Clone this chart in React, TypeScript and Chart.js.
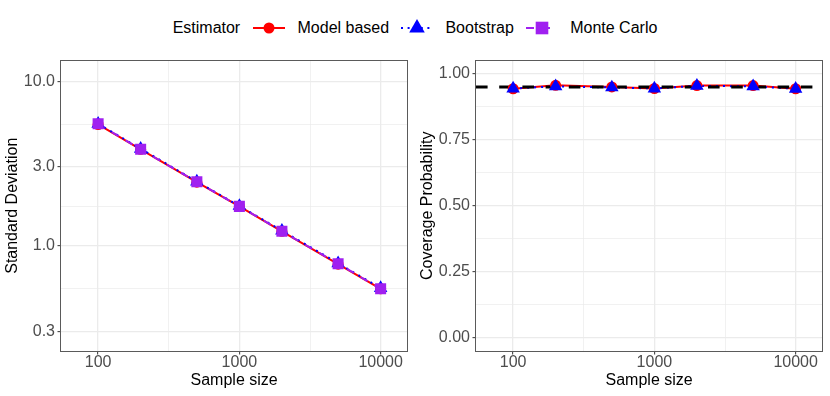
import React, { useEffect, useRef } from "react";
import { Chart, registerables } from "chart.js";

Chart.register(...registerables);

// ---------- data ----------
const sampleSizes = [100, 200, 500, 1000, 2000, 5000, 10000];

const sdModelBased = [5.45, 3.85, 2.43, 1.73, 1.22, 0.77, 0.545];
const sdBootstrap = [5.5, 3.88, 2.45, 1.74, 1.23, 0.78, 0.55];
const sdMonteCarlo = [5.5, 3.85, 2.44, 1.73, 1.22, 0.775, 0.545];

const covModelBased = [0.943, 0.956, 0.95, 0.944, 0.955, 0.955, 0.943];
const covBootstrap = [0.944, 0.952, 0.948, 0.944, 0.954, 0.952, 0.943];
const nominalCoverage = 0.95;

const xMajorTicks = [100, 1000, 10000];
const xTickLabels = ["100", "1000", "10000"];
const xMinorTicks = [316.23, 3162.3];
const xLimits = [54.6, 15420];

const sdMajorTicks = [0.3, 1, 3, 10];
const sdTickLabels = ["0.3", "1.0", "3.0", "10.0"];
const sdMinorTicks = [0.548, 1.732, 5.477];
const sdLimits = [0.228, 13.36];

const covMajorTicks = [0, 0.25, 0.5, 0.75, 1];
const covTickLabels = ["0.00", "0.25", "0.50", "0.75", "1.00"];
const covMinorTicks = [0.125, 0.375, 0.625, 0.875];
const covLimits = [-0.05, 1.05];

const seriesNames = ["Model based", "Bootstrap", "Monte Carlo"];
const legendTitle = "Estimator";

// ---------- styles ----------
const FONT = "'Liberation Sans', Arial, Helvetica, sans-serif";
const RED = "#FF0000";
const BLUE = "#0000FF";
const PURPLE = "#A020F0";
const GRID = "#EBEBEB";
const DARK = "#333333";
const BORDER = "#5A5A5A";
const TICK_TEXT = "#4D4D4D";

const toPoints = (ys: number[]) => sampleSizes.map((n, i) => ({ x: n, y: ys[i] }));

function axisConfig(
  type: "logarithmic" | "linear",
  limits: number[],
  major: number[],
  minor: number[],
  labels: string[],
  title: string,
  horizontal: boolean
) {
  const isMajor = (v: number) => major.some((m) => Math.abs(m - v) < 1e-9);
  return {
    type,
    position: horizontal ? "bottom" : "left",
    min: limits[0],
    max: limits[1],
    afterBuildTicks: (scale: any) => {
      scale.ticks = [...major, ...minor]
        .sort((a, b) => a - b)
        .map((v) => ({ value: v }));
    },
    afterFit: (scale: any) => {
      if (horizontal) scale.height = 45;
      else scale.width = 61;
    },
    border: { display: false },
    grid: {
      color: GRID,
      lineWidth: (ctx: any) => (ctx.tick && isMajor(ctx.tick.value) ? 1.3 : 0.7),
      tickColor: (ctx: any) => (ctx.tick && isMajor(ctx.tick.value) ? DARK : "rgba(0,0,0,0)"),
      tickWidth: 1,
      tickLength: 3.5,
      drawTicks: true,
    },
    ticks: {
      autoSkip: false,
      maxRotation: 0,
      minRotation: 0,
      padding: horizontal ? 0.5 : 2.5,
      color: TICK_TEXT,
      font: { family: FONT, size: 16, lineHeight: 1 },
      callback: (value: any) => {
        const i = major.findIndex((m) => Math.abs(m - Number(value)) < 1e-9);
        return i >= 0 ? labels[i] : "";
      },
    },
    title: {
      display: true,
      text: title,
      color: "#000000",
      font: { family: FONT, size: 16, lineHeight: 1.2 },
      padding: horizontal ? { top: 0, bottom: 5.4 } : { top: 3.2, bottom: 0 },
    },
  };
}

const panelBorder = {
  id: "panelBorder",
  afterDatasetsDraw(chart: any) {
    const { ctx, chartArea } = chart;
    const l = Math.round(chartArea.left) - 0.5;
    const t = Math.round(chartArea.top) - 0.5;
    const r = Math.round(chartArea.right) + 0.5;
    const b = Math.round(chartArea.bottom) + 0.5;
    ctx.save();
    ctx.strokeStyle = BORDER;
    ctx.lineWidth = 1;
    ctx.strokeRect(l, t, r - l, b - t);
    ctx.restore();
  },
};

const lineSet = (label: string, ys: number[], color: string, dash: number[], order: number) => ({
  label,
  data: toPoints(ys),
  borderColor: color,
  backgroundColor: color,
  borderWidth: 2,
  borderDash: dash,
  pointRadius: 0,
  pointHoverRadius: 0,
  tension: 0,
  fill: false,
  order,
});

const pointSet = (label: string, ys: number[], color: string, style: string, radius: number, order: number) => ({
  label,
  data: toPoints(ys),
  showLine: false,
  pointStyle: style,
  pointRadius: radius,
  pointHoverRadius: radius,
  pointBackgroundColor: color,
  pointBorderColor: color,
  pointBorderWidth: 0,
  borderWidth: 0,
  order,
});

function baseOptions(xAxis: any, yAxis: any) {
  return {
    responsive: false,
    animation: false as const,
    events: [] as any[],
    layout: { padding: { left: 0, right: 6, top: 10, bottom: 0 } },
    plugins: { legend: { display: false }, tooltip: { enabled: false } },
    scales: { x: xAxis, y: yAxis },
  };
}

function SdPanel() {
  const ref = useRef<HTMLCanvasElement | null>(null);
  useEffect(() => {
    if (!ref.current) return;
    const chart = new Chart(ref.current, {
      type: "line",
      data: {
        datasets: [
          lineSet(seriesNames[0], sdModelBased, RED, [], 6),
          lineSet(seriesNames[1], sdBootstrap, BLUE, [2, 5], 5),
          lineSet(seriesNames[2], sdMonteCarlo, PURPLE, [8, 8], 4),
          pointSet(seriesNames[0], sdModelBased, RED, "circle", 5.5, 3),
          pointSet(seriesNames[1], sdBootstrap, BLUE, "triangle", 7.8, 2),
          pointSet(seriesNames[2], sdMonteCarlo, PURPLE, "rect", 7.8, 1),
        ] as any,
      },
      options: baseOptions(
        axisConfig("logarithmic", xLimits, xMajorTicks, xMinorTicks, xTickLabels, "Sample size", true),
        axisConfig("logarithmic", sdLimits, sdMajorTicks, sdMinorTicks, sdTickLabels, "Standard Deviation", false)
      ) as any,
      plugins: [panelBorder],
    });
    return () => chart.destroy();
  }, []);
  return (
    <canvas
      ref={ref}
      width={415}
      height={346}
      style={{ position: "absolute", left: 0, top: 50, width: 415, height: 346 }}
    />
  );
}

function CoveragePanel() {
  const ref = useRef<HTMLCanvasElement | null>(null);
  useEffect(() => {
    if (!ref.current) return;
    const chart = new Chart(ref.current, {
      type: "line",
      data: {
        datasets: [
          lineSet(seriesNames[0], covModelBased, RED, [], 6),
          lineSet(seriesNames[1], covBootstrap, BLUE, [2, 5], 5),
          {
            label: "Nominal",
            data: [
              { x: xLimits[0], y: nominalCoverage },
              { x: xLimits[1], y: nominalCoverage },
            ],
            borderColor: "#000000",
            borderWidth: 3,
            borderDash: [11.6, 11.6],
            pointRadius: 0,
            pointHoverRadius: 0,
            fill: false,
            order: 4,
          },
          pointSet(seriesNames[0], covModelBased, RED, "circle", 5.5, 3),
          pointSet(seriesNames[1], covBootstrap, BLUE, "triangle", 7.8, 2),
        ] as any,
      },
      options: baseOptions(
        axisConfig("logarithmic", xLimits, xMajorTicks, xMinorTicks, xTickLabels, "Sample size", true),
        axisConfig("linear", covLimits, covMajorTicks, covMinorTicks, covTickLabels, "Coverage Probability", false)
      ) as any,
      plugins: [panelBorder],
    });
    return () => chart.destroy();
  }, []);
  return (
    <canvas
      ref={ref}
      width={415}
      height={346}
      style={{ position: "absolute", left: 415, top: 50, width: 415, height: 346 }}
    />
  );
}

function LegendKey({ kind }: { kind: number }) {
  const color = [RED, BLUE, PURPLE][kind];
  const dash = ["", "2 4.6", "8 8"][kind];
  return (
    <svg width={32} height={20} style={{ display: "block", marginRight: 12.3 }}>
      <line x1={0} y1={10} x2={32} y2={10} stroke={color} strokeWidth={2} strokeDasharray={dash || undefined} />
      {kind === 0 && <circle cx={16} cy={10} r={5.5} fill={color} />}
      {kind === 1 && (
        <polygon
          points={`16,${10 - 9} ${16 + 9 * 0.866},${10 + 4.5} ${16 - 9 * 0.866},${10 + 4.5}`}
          fill={color}
        />
      )}
      {kind === 2 && <rect x={16 - 6.3} y={10 - 6.3} width={12.6} height={12.6} fill={color} />}
    </svg>
  );
}

function Legend() {
  const textStyle: React.CSSProperties = { fontFamily: FONT, fontSize: 16, color: "#000", whiteSpace: "nowrap" };
  return (
    <div
      style={{
        position: "absolute",
        left: 0,
        top: 18,
        width: 830,
        height: 20,
        display: "flex",
        alignItems: "center",
        justifyContent: "center",
      }}
    >
      <span style={{ ...textStyle, marginRight: 13 }}>{legendTitle}</span>
      {seriesNames.map((name, i) => (
        <React.Fragment key={name}>
          <LegendKey kind={i} />
          <span style={{ ...textStyle, marginRight: i < seriesNames.length - 1 ? 12 : 0 }}>{name}</span>
        </React.Fragment>
      ))}
    </div>
  );
}

export default function App() {
  return (
    <div
      style={{
        position: "fixed",
        left: 0,
        top: 0,
        width: 830,
        height: 396,
        background: "#FFFFFF",
        overflow: "hidden",
      }}
    >
      <Legend />
      <SdPanel />
      <CoveragePanel />
    </div>
  );
}
